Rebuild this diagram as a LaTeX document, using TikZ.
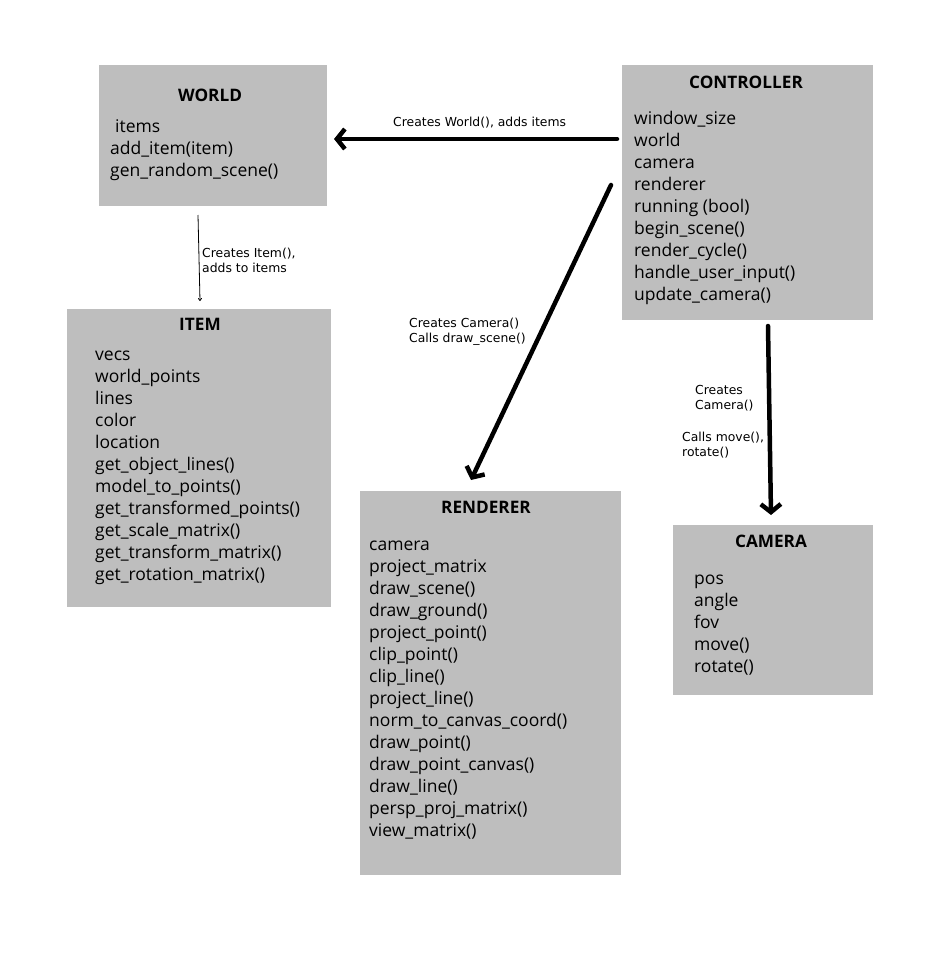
\documentclass[tikz,border=0pt]{standalone}
\usepackage{fontspec}
\setmainfont{Open Sans}
\newfontfamily\labelfont{DejaVu Sans}
\usetikzlibrary{arrows.meta}
\definecolor{boxgray}{RGB}{190,190,190}
\tikzset{
  box/.style={fill=boxgray, draw=none, anchor=north west, inner sep=0pt},
  title/.style={anchor=base, inner sep=0pt, font=\fontsize{17.2}{20}\selectfont\bfseries},
  member/.style={anchor=base west, inner sep=0pt, font=\fontsize{17.5}{20}\selectfont},
  lbl/.style={anchor=base west, inner sep=0pt, font=\labelfont\fontsize{12.4}{14}\selectfont},
  thickarrow/.style={line width=4.5pt, line cap=round, line join=round, -{Straight Barb[length=8pt,width=20pt,line width=4.5pt]}},
  thinarrow/.style={line width=0.8pt, -{To[length=3pt,width=4pt]}}
}
\begin{document}
\begin{tikzpicture}[x=1pt,y=-1pt]
\useasboundingbox (0,0) rectangle (934,977);
% boxes
\node[box, minimum width=228pt, minimum height=141pt] (world) at (99,65) {};
\node[box, minimum width=251pt, minimum height=255pt] (ctrl) at (622,65) {};
\node[box, minimum width=264pt, minimum height=298pt] (item) at (67,309) {};
\node[box, minimum width=261pt, minimum height=384pt] (rend) at (360,491) {};
\node[box, minimum width=200pt, minimum height=170pt] (cam) at (673,525) {};
% titles
\node[title] (tw) at (210,101) {WORLD};
\node[title] (tc) at (746,88) {CONTROLLER};
\node[title] (ti) at (200,330) {ITEM};
\node[title] (tr) at (486,513) {RENDERER};
\node[title] (tk) at (771,547) {CAMERA};
% world members
\node[member] (w1) at (115,132) {items};
\node[member] (w2) at (110,154) {add\_item(item)};
\node[member] (w3) at (110,176) {gen\_random\_scene()};
% controller members
\foreach [count=\i] \t in {window\_size, world, camera, renderer, running (bool), begin\_scene(), render\_cycle(), handle\_user\_input(), update\_camera()}
  \node[member] (c\i) at (634,{124+22*(\i-1)}) {\t};
% item members
\foreach [count=\i] \t in {vecs, world\_points, lines, color, location, get\_object\_lines(), model\_to\_points(), get\_transformed\_points(), get\_scale\_matrix(), get\_transform\_matrix(), get\_rotation\_matrix()}
  \node[member] (i\i) at (95,{360+22*(\i-1)}) {\t};
% renderer members
\foreach [count=\i] \t in {camera, project\_matrix, draw\_scene(), draw\_ground(), project\_point(), clip\_point(), clip\_line(), project\_line(), norm\_to\_canvas\_coord(), draw\_point(), draw\_point\_canvas(), draw\_line(), persp\_proj\_matrix(), view\_matrix()}
  \node[member] (r\i) at (369,{550+22*(\i-1)}) {\t};
% camera members
\foreach [count=\i] \t in {pos, angle, fov, move(), rotate()}
  \node[member] (k\i) at (694,{584+22*(\i-1)}) {\t};
% connector end points
\coordinate (a1s) at (617,139); \coordinate (a1e) at (334,139);
\coordinate (a2s) at (198,215); \coordinate (a2e) at (200,301);
\coordinate (a3s) at (611,185); \coordinate (a3e) at (471,480);
\coordinate (a4s) at (768,326); \coordinate (a4e) at (771,515);
\draw[thickarrow] (a1s) -- (a1e);
\draw[thinarrow] (a2s) -- (a2e);
\draw[thickarrow] (a3s) -- (a3e);
\draw[thickarrow] (a4s) -- (a4e);
% labels
\node[lbl] (l1) at (393,126) {Creates World(), adds items};
\node[lbl] (l2a) at (202,257) {Creates Item(),};
\node[lbl] (l2b) at (202,272) {adds to items};
\node[lbl] (l3a) at (409,327) {Creates Camera()};
\node[lbl] (l3b) at (409,342) {Calls draw\_scene()};
\node[lbl] (l4a) at (695,394) {Creates};
\node[lbl] (l4b) at (695,409) {Camera()};
\node[lbl] (l4c) at (682,441) {Calls move(),};
\node[lbl] (l4d) at (682,456) {rotate()};
\end{tikzpicture}
\end{document}
